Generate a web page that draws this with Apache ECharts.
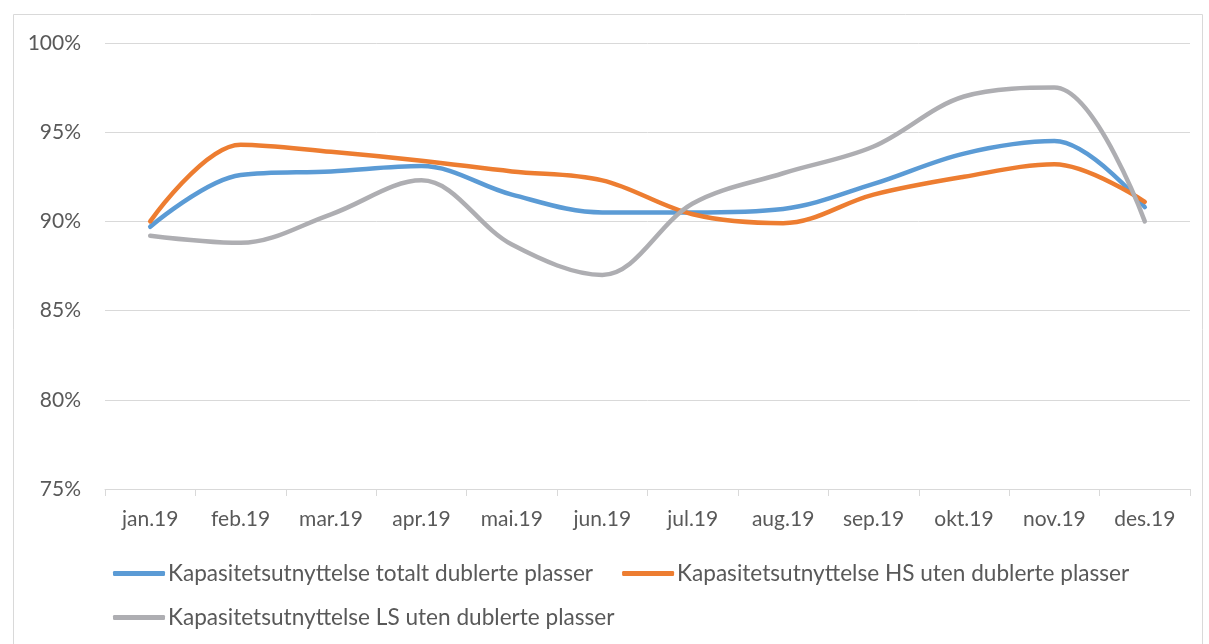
<!DOCTYPE html>
<html>
<head>
<meta charset="utf-8">
<script src="https://cdn.jsdelivr.net/npm/echarts@6/dist/echarts.min.js"></script>
<style>
html,body{margin:0;padding:0;background:#fff;}
#chart{width:1209px;height:644px;}
</style>
</head>
<body>
<div id="chart"></div>
<script>
const categories = ['jan.19','feb.19','mar.19','apr.19','mai.19','jun.19','jul.19','aug.19','sep.19','okt.19','nov.19','des.19'];
const seriesNames = [
  'Kapasitetsutnyttelse totalt dublerte plasser',
  'Kapasitetsutnyttelse HS uten dublerte plasser',
  'Kapasitetsutnyttelse LS uten dublerte plasser'
];
const totalt = [0.897, 0.926, 0.928, 0.931, 0.915, 0.905, 0.905, 0.907, 0.921, 0.938, 0.945, 0.908];
const hs     = [0.900, 0.943, 0.939, 0.934, 0.928, 0.923, 0.904, 0.899, 0.915, 0.925, 0.932, 0.911];
const ls     = [0.892, 0.888, 0.904, 0.923, 0.887, 0.870, 0.910, 0.927, 0.942, 0.970, 0.975, 0.900];
const yTicks = [0.75, 0.80, 0.85, 0.90, 0.95, 1.00];
const colors = ['#5B9BD5', '#ED7D31', '#AEAEB2'];

const font = 'Lato, "Open Sans", sans-serif';
const chart = echarts.init(document.getElementById('chart'));
const dataSets = [totalt, hs, ls];
const legendText = {color: '#595959', fontSize: 22.6, fontFamily: font, padding: [0,0,0,-2]};
chart.setOption({
  animation: false,
  graphic: [{
    type: 'rect', left: 11, top: 12, shape: {width: 1189, height: 660},
    style: {fill: 'none', stroke: '#d9d9d9', lineWidth: 1}, silent: true
  }],
  grid: {left: 105, right: 19, top: 43, bottom: 155},
  xAxis: {
    type: 'category',
    data: categories,
    boundaryGap: true,
    axisLine: {lineStyle: {color: '#d9d9d9', width: 1}},
    axisTick: {show: true, alignWithLabel: false, length: 7, lineStyle: {color: '#d9d9d9'}},
    axisLabel: {color: '#595959', fontSize: 21, fontFamily: font, margin: 20}
  },
  yAxis: {
    type: 'value',
    min: yTicks[0], max: yTicks[yTicks.length - 1], interval: 0.05,
    axisLine: {show: false}, axisTick: {show: false},
    splitLine: {lineStyle: {color: '#d9d9d9', width: 1}},
    axisLabel: {color: '#595959', fontSize: 21, fontFamily: font, margin: 24,
      formatter: v => Math.round(v * 100) + '%'}
  },
  legend: [
    {
      data: [seriesNames[0], seriesNames[1]],
      left: 108, top: 557, itemGap: 29, itemWidth: 52, itemHeight: 5,
      icon: 'roundRect', textStyle: legendText
    },
    {
      data: [seriesNames[2]],
      left: 108, top: 601, itemGap: 29, itemWidth: 52, itemHeight: 5,
      icon: 'roundRect', textStyle: legendText
    }
  ],
  series: seriesNames.map((n, i) => ({
    name: n,
    type: 'line',
    data: dataSets[i],
    smooth: 0.35,
    symbol: 'none',
    lineStyle: {color: colors[i], width: 4.5, cap: 'round', join: 'round'},
    itemStyle: {color: colors[i]}
  }))
});
</script>
</body>
</html>
